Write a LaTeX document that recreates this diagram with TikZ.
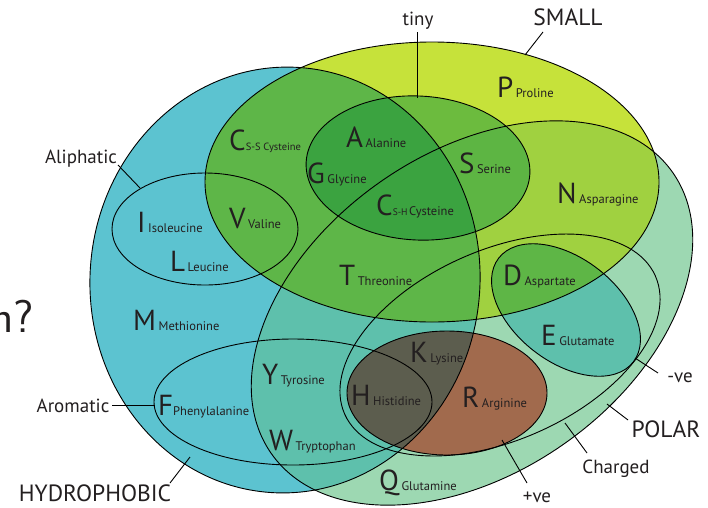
\documentclass[tikz,border=0pt]{standalone}
\usepackage{fontspec}
\setmainfont{PT Sans}
\definecolor{txt}{RGB}{35,31,32}
\definecolor{pcol}{RGB}{157,216,178}
\definecolor{hcol}{RGB}{92,195,208}
\definecolor{scol}{RGB}{198,226,58}
\definecolor{teal}{RGB}{94,192,172}
\definecolor{ngreen}{RGB}{160,209,64}
\definecolor{tgreen}{RGB}{94,182,72}
\definecolor{tinyonly}{RGB}{108,187,62}
\definecolor{sgreen}{RGB}{93,181,67}
\definecolor{dkgreen}{RGB}{59,163,64}
\definecolor{dgreen}{RGB}{94,182,70}
\definecolor{brownc}{RGB}{161,106,77}
\definecolor{grayc}{RGB}{92,93,78}
\newcommand\AAl[2]{{\fontsize{29}{29}\selectfont #1}\hspace{2.5pt}{\fontsize{12.5}{12.5}\selectfont #2}}
\begin{document}
\begin{tikzpicture}[x=1pt,y=-1pt,
  outl/.style={draw=black, line width=0.9pt},
  lead/.style={draw=black, line width=0.9pt},
  lab/.style={anchor=base, text=txt, inner sep=0pt, font=\fontsize{19}{19}\selectfont},
  ulab/.style={anchor=base, text=txt, inner sep=0pt, font=\fontsize{23.5}{23.5}\selectfont},
  aa/.style={anchor=base west, inner sep=0pt, text=txt}]
\useasboundingbox (0,0) rectangle (708,507);
\fill[white] (0,0) rectangle (708,507);

\def\Ehyd{(285,280) ellipse [x radius=195, y radius=213, rotate=-4]}
\def\Esmall{(432,182) ellipse [x radius=227, y radius=140]}
\def\Etiny{(418,168) ellipse [x radius=112, y radius=72, rotate=-3]}
\def\Ealiph{(205,229) ellipse [x radius=93, y radius=56]}
\def\Earom{(293,402) ellipse [x radius=139, y radius=63]}
\def\Epolar{(472,313) ellipse [x radius=245, y radius=160, rotate=35]}
\def\Echarged{(500,345) ellipse [x radius=170, y radius=95, rotate=24]}
\def\Epos{(447,393) ellipse [x radius=100, y radius=62]}
\def\Eneg{(566,310) ellipse [x radius=85, y radius=52, rotate=-37.6]}

% fills
\fill[pcol] \Epolar;
\fill[hcol] \Ehyd;
\fill[scol] \Esmall;
\begin{scope}\clip \Ehyd; \fill[teal] \Epolar; \end{scope}
\begin{scope}\clip \Esmall; \fill[ngreen] \Epolar; \end{scope}
\begin{scope}\clip \Esmall; \fill[tgreen] \Ehyd; \end{scope}
\fill[tinyonly] \Etiny;
\begin{scope}\clip \Etiny; \fill[sgreen] \Epolar; \end{scope}
\begin{scope}\clip \Etiny; \fill[dkgreen] \Ehyd; \end{scope}
\fill[teal] \Eneg;
\begin{scope}\clip \Esmall; \fill[dgreen] \Eneg; \end{scope}
\fill[brownc] \Epos;
\begin{scope}\clip \Ehyd; \fill[grayc] \Epos; \end{scope}

% outlines
\draw[outl] \Epolar;
\draw[outl] \Ehyd;
\draw[outl] \Esmall;
\draw[outl] \Etiny;
\draw[outl] \Ealiph;
\draw[outl] \Earom;
\draw[outl] \Echarged;
\draw[outl] \Epos;
\draw[outl] \Eneg;

% amino acid labels
\node[aa] (nP) at (497,97) {\AAl{P}{Proline}};
\node[aa] (nCss) at (229,150) {{\fontsize{29}{29}\selectfont C}{\fontsize{10.5}{10.5}\selectfont S-S Cysteine}};
\node[aa] (nA) at (346,147) {\AAl{A}{Alanine}};
\node[aa] (nG) at (307,183) {\AAl{G}{Glycine}};
\node[aa] (nS) at (459,173) {\AAl{S}{Serine}};
\node[aa] (nCsh) at (376,215) {{\fontsize{29}{29}\selectfont C}{\fontsize{9.5}{9.5}\selectfont S-H\,}{\fontsize{12.5}{12.5}\selectfont Cysteine}};
\node[aa] (nN) at (557,203) {\AAl{N}{Asparagine}};
\node[aa] (nI) at (137,232) {\AAl{I}{Isoleucine}};
\node[aa] (nV) at (229,228) {\AAl{V}{Valine}};
\node[aa] (nL) at (170,271) {\AAl{L}{Leucine}};
\node[aa] (nM) at (133,330) {\AAl{M}{Methionine}};
\node[aa] (nT) at (339,285) {\AAl{T}{Threonine}};
\node[aa] (nD) at (503,285) {\AAl{D}{Aspartate}};
\node[aa] (nE) at (541,345) {\AAl{E}{Glutamate}};
\node[aa] (nK) at (410,362) {\AAl{K}{Lysine}};
\node[aa] (nY) at (262,384) {\AAl{Y}{Tyrosine}};
\node[aa] (nF) at (158,415) {{\fontsize{29}{29}\selectfont F}{\fontsize{12.5}{12.5}\selectfont Phenylalanine}};
\node[aa] (nH) at (351,405) {\AAl{H}{Histidine}};
\node[aa] (nR) at (462,407) {\AAl{R}{Arginine}};
\node[aa] (nW) at (269,450) {\AAl{W}{Tryptophan}};
\node[aa] (nQ) at (379,490) {\AAl{Q}{Glutamine}};

% set labels
\node[lab] (tiny) at (418,25) {tiny};
\node[ulab] (small) at (568,25) {SMALL};
\node[lab] (aliph) at (81,163) {Aliphatic};
\node[lab] (arom) at (73,412) {Aromatic};
\node[ulab] (hydro) at (95,501.5) {HYDROPHOBIC};
\node[ulab] (polar) at (666,437) {POLAR};
\node[lab] (charged) at (616,473) {Charged};
\node[lab] (neg) at (680,382) {-ve};
\node[lab] (pos) at (537,502) {+ve};
\node[anchor=base east, inner sep=0pt, text=txt] (cut) at (34,332) {\sffamily\fontsize{46}{46}\selectfont n?};

% leader ends
\coordinate (tinyA) at (417,32);   \coordinate (tinyB) at (417,98);
\coordinate (smallA) at (543,32);  \coordinate (smallB) at (525,55);
\coordinate (aliA) at (118,165);   \coordinate (aliB) at (140,188);
\coordinate (aroA) at (112,405);   \coordinate (aroB) at (155,405);
\coordinate (hydA) at (170,483);   \coordinate (hydB) at (190,457);
\coordinate (polA) at (628,420);   \coordinate (polB) at (607,404);
\coordinate (chgA) at (587,453);   \coordinate (chgB) at (565,423);
\coordinate (negA) at (658,373);   \coordinate (negB) at (635,358);
\coordinate (posA) at (527,483);   \coordinate (posB) at (502,440);

\draw[lead] (tinyA) -- (tinyB);
\draw[lead] (smallA) -- (smallB);
\draw[lead] (aliA) -- (aliB);
\draw[lead] (aroA) -- (aroB);
\draw[lead] (hydA) -- (hydB);
\draw[lead] (polA) -- (polB);
\draw[lead] (chgA) -- (chgB);
\draw[lead] (negA) -- (negB);
\draw[lead] (posA) -- (posB);
\end{tikzpicture}
\end{document}
